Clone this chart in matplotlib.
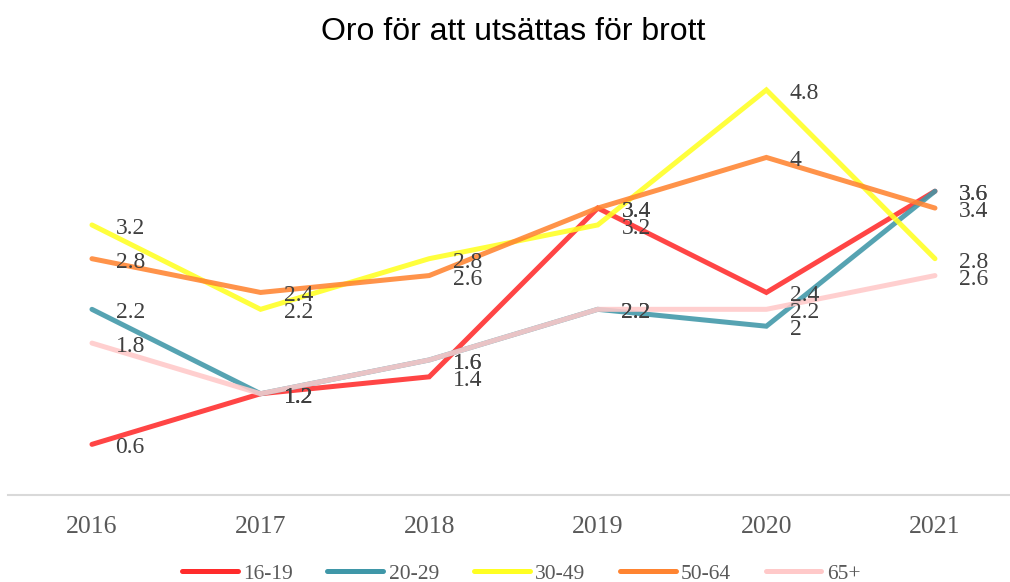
import matplotlib
matplotlib.use('Agg')
import matplotlib.pyplot as plt

years = ['2016', '2017', '2018', '2019', '2020', '2021']
groups = ['16-19', '20-29', '30-49', '50-64', '65+']
v_16_19 = [0.6, 1.2, 1.4, 3.4, 2.4, 3.6]
v_20_29 = [2.2, 1.2, 1.6, 2.2, 2.0, 3.6]
v_30_49 = [3.2, 2.2, 2.8, 3.2, 4.8, 2.8]
v_50_64 = [2.8, 2.4, 2.6, 3.4, 4.0, 3.4]
v_65 = [1.8, 1.2, 1.6, 2.2, 2.2, 2.6]
series = [v_16_19, v_20_29, v_30_49, v_50_64, v_65]
colors = ['#ff2b2b', '#3f97a8', '#ffff22', '#ff8431', '#ffc9c9']

serif = 'Liberation Serif'

fig = plt.figure(figsize=(10.1, 5.82), dpi=100)
ax = fig.add_axes([8 / 1010, 0.1495, 1 - 8 / 1010, 0.725])

x = list(range(len(years)))
for vals, col, name in zip(series, colors, groups):
    ax.plot(x, vals, color=col, lw=3.6, alpha=0.88, solid_capstyle='round',
            solid_joinstyle='miter', label=name)
    for xi, v in zip(x, vals):
        ax.annotate('%g' % v, (xi, v), xytext=(17, -2.5), textcoords='offset points',
                    ha='left', va='center', fontsize=17, family=serif, color='#404040')

ax.set_xlim(-0.498, 5.445)
ax.set_ylim(0, 5)
ax.set_xticks(x)
ax.set_xticklabels(years, family=serif, fontsize=18.5, color='#595959')
ax.tick_params(axis='x', length=0, pad=15)
ax.set_yticks([])
for s in ['top', 'left', 'right']:
    ax.spines[s].set_visible(False)
ax.spines['bottom'].set_color('#d9d9d9')
ax.spines['bottom'].set_linewidth(1.5)

fig.text(0.508, 0.945, 'Oro för att utsättas för brott', ha='center', va='center',
         fontsize=23, family='Liberation Sans', color='#000000')

leg = fig.legend(loc='lower center', bbox_to_anchor=(0.516, -0.036), ncol=5, frameon=False,
                 prop={'family': serif, 'size': 15.5}, handlelength=2.6, handletextpad=0.25,
                 columnspacing=1.6)
for t in leg.get_texts():
    t.set_color('#595959')
for h in leg.get_lines():
    h.set_alpha(1)

fig.savefig('out.png', dpi=100)
